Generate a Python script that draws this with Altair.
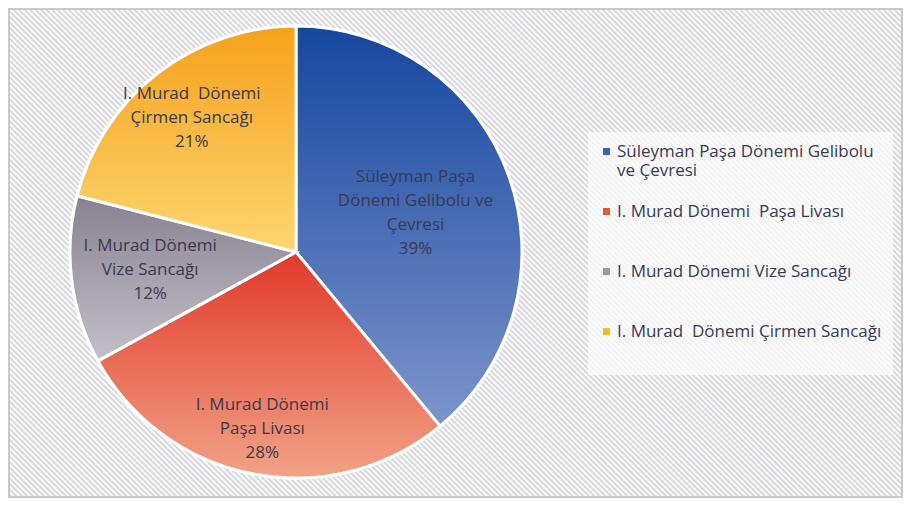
import altair as alt
import pandas as pd
import math

# ---- data ----
categories = [
    "Süleyman Paşa Dönemi Gelibolu ve Çevresi",
    "I. Murad Dönemi  Paşa Livası",
    "I. Murad Dönemi Vize Sancağı",
    "I. Murad  Dönemi Çirmen Sancağı",
]
values = [39, 28, 12, 21]
slice_labels = [
    "Süleyman Paşa\nDönemi Gelibolu ve\nÇevresi",
    "I. Murad Dönemi\nPaşa Livası",
    "I. Murad Dönemi\nVize Sancağı",
    "I. Murad  Dönemi\nÇirmen Sancağı",
]

# ---- styling ----
legend_colors = ["#3d63b2", "#e6553f", "#9c97a2", "#f8b732"]
grad_top = ["#15479e", "#e2382a", "#888290", "#f6a11c"]
grad_bottom = ["#7d94cb", "#f1a387", "#c4c0c9", "#fcd670"]
label_radius = [127, 180, 147, 170]

W, H = 895, 490
CX, CY, R = 288, 244, 226
TEXT = "#3a3a52"
FONT = "Open Sans"
FS = 17
LH = 24

nb = lambda s: s.replace("  ", "\u00a0 ")

df = pd.DataFrame({
    "idx": list(range(len(categories))),
    "category": [nb(c) for c in categories],
    "value": values,
    "slice_label": [nb(s) for s in slice_labels],
})


def vgrad(c1, c2):
    return {"gradient": "linear", "x1": 0, "y1": 0, "x2": 0, "y2": 1,
            "stops": [{"offset": 0, "color": c1}, {"offset": 1, "color": c2}]}


# diagonal hatch background as a many-stop linear gradient
period = 3.9
span = (W + H) / 2 ** 0.5
n = int(round(span / period))
stops = [{"offset": i / (2 * n), "color": "#ffffff" if i % 2 == 0 else "#d3d3d8"}
         for i in range(2 * n + 1)]
t = (W + H) / (W * W + H * H)
hatch = {"gradient": "linear", "x1": 0, "y1": 1, "x2": t * W, "y2": 1 - t * H,
         "stops": stops}

bg = alt.Chart(pd.DataFrame({"b": [0]})).mark_rect(
    fill=hatch, stroke="#c9c9cd", strokeWidth=2
).encode(x=alt.value(1), x2=alt.value(W - 1), y=alt.value(1), y2=alt.value(H - 1))

legend_box = alt.Chart(pd.DataFrame({"b": [0]})).mark_rect(
    fill="#ffffff", opacity=0.65
).encode(x=alt.value(580), x2=alt.value(885), y=alt.value(124), y2=alt.value(367))

base = alt.Chart(df).encode(
    theta=alt.Theta("value:Q", stack=True),
    order=alt.Order("idx:Q"),
    x=alt.value(CX),
    y=alt.value(CY),
)

first = categories[0]
label_expr = (
    f"datum.label == '{first}' ? ['Süleyman Paşa Dönemi Gelibolu', 've Çevresi'] : datum.label"
)

solid = base.mark_arc(outerRadius=R, stroke="#ffffff", strokeWidth=3).encode(
    color=alt.Color(
        "category:N",
        scale=alt.Scale(domain=[nb(c) for c in categories], range=legend_colors),
        sort=None,
        legend=alt.Legend(
            title=None, orient="none", legendX=590, legendY=135,
            symbolType="square", symbolSize=49, symbolStrokeWidth=0,
            labelFont=FONT, labelFontSize=FS, labelColor=TEXT, labelLimit=400,
            labelOffset=2, rowPadding=23, labelExpr=label_expr,
            gridAlign="all",
        ),
    )
)

conds = [{"test": f"datum.idx == {i}", "value": vgrad(grad_top[i], grad_bottom[i])}
         for i in range(len(categories) - 1)]
last = len(categories) - 1
grad = base.mark_arc(outerRadius=R, stroke="#ffffff", strokeWidth=3).encode(
    fill=alt.value(vgrad(grad_top[last], grad_bottom[last]), condition=conds)
)

radius_expr = " : ".join(
    [f"datum.idx == {i} ? {label_radius[i]}" for i in range(len(categories) - 1)]
) + f" : {label_radius[last]}"

text = alt.Chart(df).mark_text(
    font=FONT, fontSize=FS, color=TEXT, lineBreak="\n", lineHeight=LH,
    align="center", baseline="middle"
).transform_joinaggregate(
    total="sum(value)"
).transform_window(
    cum="sum(value)", sort=[alt.SortField("idx")], frame=[None, 0]
).transform_calculate(
    lr=radius_expr,
    mid=f"(datum.cum - datum.value / 2) / datum.total * {2 * math.pi}",
    txt="datum.slice_label + '\\n' + format(datum.value / datum.total, '.0%')",
).transform_calculate(
    nl="length(split(datum.txt, '\\n'))",
    px=f"{CX} + datum.lr * sin(datum.mid)",
).transform_calculate(
    py=f"{CY} - datum.lr * cos(datum.mid) - (datum.nl - 1) * {LH / 2} + (datum.nl > 3 ? 4 : 0)",
).encode(
    x=alt.X("px:Q", scale=None),
    y=alt.Y("py:Q", scale=None),
    text="txt:N",
)

chart = alt.layer(bg, legend_box, solid, grad, text).properties(
    width=W, height=H, padding=0, autosize=alt.AutoSizeParams(type="none")
).configure_view(stroke=None)

chart.save("out.html", embed_options={"renderer": "svg", "actions": False})
